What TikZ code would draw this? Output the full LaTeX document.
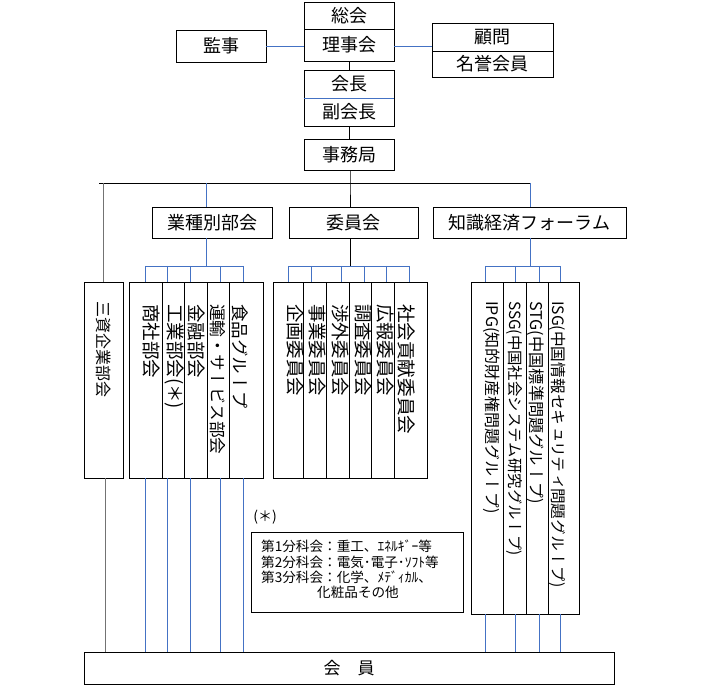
\documentclass[tikz,border=0pt]{standalone}
\usepackage{fontspec}
\setmainfont{Noto Sans CJK JP}
\newfontfamily\jpv{Noto Sans CJK JP}[Vertical=RotatedGlyphs]
\definecolor{lblue}{HTML}{4472C4}
\tikzset{
  bx/.style={draw, line width=0.9pt, inner sep=0pt, font=\fontsize{18}{20}\selectfont},
  col/.style={draw, line width=0.9pt, inner sep=0pt, minimum width=#1},
  vt/.style={rotate=-90, anchor=west, inner sep=0pt, font=\jpv\fontsize{#1}{#1}\selectfont},
  bl/.style={draw=lblue, line width=0.9pt},
  bk/.style={draw=black, line width=0.9pt},
  gl/.style={draw=black!55, line width=1pt},
}
\begin{document}
\begin{tikzpicture}[x=1pt,y=-1pt]
\useasboundingbox (0,0) rectangle (710,692);

% top boxes
\node[bx, minimum width=90pt, minimum height=27pt] (soukai) at (349,15.5) {総会};
\node[bx, minimum width=90pt, minimum height=32pt] (riji) at (349,45) {理事会};
\node[bx, minimum width=90pt, minimum height=32pt] (kanji) at (221,46) {監事};
\node[bx, minimum width=121pt, minimum height=28pt] (komon) at (492.5,37) {顧問};
\node[bx, minimum width=121pt, minimum height=26pt] (meiyo) at (492.5,64) {名誉会員};
\node[bx, minimum width=90pt, minimum height=28pt] (kaicho) at (349,84) {会長};
\node[bx, minimum width=90pt, minimum height=28pt] (fuku) at (349,112) {副会長};
\draw[bl] (kaicho.south west) -- (kaicho.south east);
\node[bx, minimum width=90pt, minimum height=31pt] (jimu) at (349,154.5) {事務局};

\node[bx, minimum width=120pt, minimum height=31pt] (gyoshu) at (212,222.5) {業種別部会};
\node[bx, minimum width=129pt, minimum height=31pt] (iinkai) at (353.5,222.5) {委員会};
\node[bx, minimum width=193pt, minimum height=31pt] (chishiki) at (529.5,222.5) {知識経済フォーラム};

% top connectors
\draw[bl] (kanji.east) -- (riji.west |- kanji.east);
\draw[bl] (riji.east |- kanji.east) -- (komon.west |- kanji.east);
\draw[bk] (riji.south) -- (kaicho.north);
\draw[bk] (fuku.south) -- (jimu.north);
\coordinate (hl) at (99,183);
\coordinate (hr) at (530,183);
\coordinate (hc) at (350,183);
\draw[bk] (hl) -- (hr);
\draw[bk] (jimu.south -| hc) -- (hc) -- (hc |- iinkai.north);
\coordinate (gx) at (206,183);
\draw[bl] (gx) -- (gx |- gyoshu.north);
\draw[bl] (hr) -- (hr |- chishiki.north);

% columns
\node[col=39pt, minimum height=196pt] (sanshi) at (103.5,380) {};
\draw[gl] (103,183) -- (103,0 |- sanshi.north);

\foreach \n/\cx/\w in {L1/145.5/33pt, L2/173/22pt, L3/195.5/23pt, L4/218/22pt, L5/246/34pt}
  \node[col=\w, minimum height=196pt] (\n) at (\cx,380) {};
\foreach \n/\cx/\w in {M1/288/30pt, M2/314.5/23pt, M3/337.5/23pt, M4/360/22pt, M5/382.5/23pt, M6/410.5/33pt}
  \node[col=\w, minimum height=196pt] (\n) at (\cx,380) {};
\foreach \n/\cx/\w in {R1/487/32pt, R2/514.5/23pt, R3/537/22pt, R4/563.5/31pt}
  \node[col=\w, minimum height=332pt] (\n) at (\cx,448) {};

% brackets
\coordinate (lb) at (206,266);
\draw[bl] (gx |- gyoshu.south) -- (lb);
\draw[bl] (145,266) -- (243,266);
\foreach \x/\n in {145/L1,167/L2,190/L3,220/L4,243/L5}
  \draw[bl] (\x,266) -- (\x,0 |- \n.north);

\coordinate (mb) at (350,266);
\draw[bk] (hc |- iinkai.south) -- (mb);
\draw[bl] (288,266) -- (409,266);
\foreach \x/\n in {288/M1,311/M2,341/M3,364/M4,386/M5,409/M6}
  \draw[bl] (\x,266) -- (\x,0 |- \n.north);

\coordinate (rb) at (530,266);
\draw[bl] (hr |- chishiki.south) -- (rb);
\draw[bl] (485,266) -- (560,266);
\foreach \x/\n in {485/R1,515/R2,539/R3,560/R4}
  \draw[bl] (\x,266) -- (\x,0 |- \n.north);

% vertical texts
\node[vt=16] (ts) at (103.5,301) {三資企業部会};
\node[vt=18.5] (tl1) at (152,304) {商社部会};
\node[vt=18.5] (tl2) at (174,304) {工業部会(＊)};
\node[vt=18.5] (tl3) at (197,304) {金融部会};
\node[vt=16.7] (tl4) at (218,304) {運輸・サービス部会};
\node[vt=17.5] (tl5) at (240,304) {食品グループ};
\node[vt=18.4] (tm1) at (295,304) {企画委員会};
\node[vt=18.4] (tm2) at (317,304) {事業委員会};
\node[vt=18.4] (tm3) at (340,304) {渉外委員会};
\node[vt=18.4] (tm4) at (363,304) {調査委員会};
\node[vt=18.4] (tm5) at (385,304) {広報委員会};
\node[vt=18.6] (tm6) at (407,304) {社会貢献委員会};
\node[vt=16] (tr1) at (492,301) {IPG(知的財産権問題グループ)};
\node[vt=15.4] (tr2) at (514,301) {SSG(中国社会システム研究グループ)};
\node[vt=16.2] (tr3) at (536,301) {STG(中国標準問題グループ)};
\node[vt=15.7] (tr4) at (558,301) {ISG(中国情報セキュリティ問題グループ)};

% note
\node[inner sep=0pt, font=\fontsize{14}{16}\selectfont] (notelab) at (265,517) {(＊)};
\node[draw, line width=0.9pt, minimum width=212pt, minimum height=80pt, inner sep=0pt] (note) at (357,572) {};
\node[anchor=north west, inner sep=0pt, align=left, font=\fontsize{13.6}{15.3}\selectfont] (notetext) at (261,540)
  {第1分科会：重工、ｴﾈﾙｷﾞｰ等\\第2分科会：電気･電子･ｿﾌﾄ等\\第3分科会：化学、ﾒﾃﾞｨｶﾙ、\\\hspace*{56pt}化粧品その他};

% members
\node[bx, minimum width=530pt, minimum height=32pt, font=\fontsize{17}{19}\selectfont] (kaiin) at (349,668) {会　員};

% lines to members
\draw[gl] (105,0 |- sanshi.south) -- (105,0 |- kaiin.north);
\foreach \x/\n in {145/L1,167/L2,190/L3,220/L4,243/L5}
  \draw[bl] (\x,0 |- \n.south) -- (\x,0 |- kaiin.north);
\foreach \x/\n in {485/R1,515/R2,539/R3,560/R4}
  \draw[bl] (\x,0 |- \n.south) -- (\x,0 |- kaiin.north);
\end{tikzpicture}
\end{document}
